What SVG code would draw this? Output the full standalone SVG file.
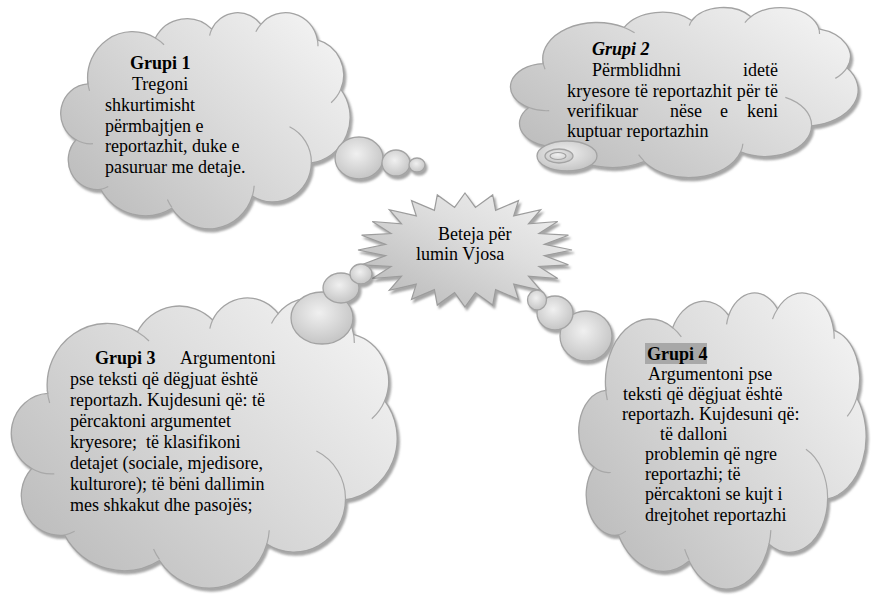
<svg xmlns="http://www.w3.org/2000/svg" xmlns:xlink="http://www.w3.org/1999/xlink" width="871" height="596" viewBox="0 0 871 596">
<style>
.t{font-family:"Liberation Serif","Times New Roman",serif;font-size:18px;fill:#000}
.b{font-weight:bold}
.bi{font-weight:bold;font-style:italic}
.cl{fill:url(#gc);stroke:#a3a3a3;stroke-width:1.3}
.in{fill:none;stroke:#a8a8a8;stroke-width:1.2}
.tl{fill:url(#gt);stroke:#a3a3a3;stroke-width:1.3}
</style>
<defs>
<linearGradient id="gc" x1="0" y1="0.9" x2="1" y2="0.15">
<stop offset="0" stop-color="#b9b9b9"/>
<stop offset="0.55" stop-color="#dadada"/>
<stop offset="1" stop-color="#f3f3f3"/>
</linearGradient>
<radialGradient id="gt" cx="0.45" cy="0.4" r="0.65">
<stop offset="0" stop-color="#f0f0f0"/>
<stop offset="1" stop-color="#c2c2c2"/>
</radialGradient>
<linearGradient id="gs" x1="0" y1="1" x2="1" y2="0">
<stop offset="0" stop-color="#b5b5b5"/>
<stop offset="0.6" stop-color="#dedede"/>
<stop offset="1" stop-color="#f2f2f2"/>
</linearGradient>
<filter id="sh" x="-10%" y="-10%" width="125%" height="125%">
<feDropShadow dx="2" dy="3" stdDeviation="1.2" flood-color="#6a6a6a" flood-opacity="0.6"/>
</filter>
<path id="cloud" vector-effect="non-scaling-stroke" d="M9.03 33.26A15.63 21.27 0 0 1 32.42 12.04A12.34 16.82 0 0 1 51.98 7.94A10.10 13.76 0 0 1 69.05 5.74A11.24 15.27 0 0 1 88.70 12.90A12.34 16.84 0 0 1 96.80 35.78A15.68 21.34 0 0 1 86.58 69.91A13.39 18.21 0 0 1 66.10 85.21A15.63 21.33 0 0 1 38.14 90.88A17.87 24.41 0 0 1 13.43 82.10A10.09 13.70 0 0 1 4.88 59.14A10.06 13.76 0 0 1 9.03 33.26Z"/>
<path id="inner" vector-effect="non-scaling-stroke" d="M10.75 60.98A10.06 13.76 0 0 1 4.88 59.14M16.04 80.79A10.09 13.70 0 0 1 13.43 82.10M38.14 90.49A15.63 21.33 0 0 1 36.60 86.86M66.73 80.44A15.63 21.33 0 0 1 66.10 85.21M79.00 53.13A13.39 18.21 0 0 1 86.58 69.91M96.80 35.78A12.34 16.84 0 0 1 93.44 41.98M88.70 12.90A11.24 15.27 0 0 1 88.88 15.83M67.31 9.15A11.24 15.27 0 0 1 69.05 5.74M51.25 10.93A10.10 13.76 0 0 1 51.98 7.94M32.42 12.04A15.63 21.27 0 0 1 35.43 15.16M9.55 36.55A15.63 21.27 0 0 1 8.93 32.06"/>
</defs>
<rect width="871" height="596" fill="#ffffff"/>

<g id="center">
<polygon filter="url(#sh)" fill="url(#gs)" stroke="#9c9c9c" stroke-width="1.2" points="465,193 475.4,207.4 492.7,194.9 495.6,210.3 518.5,200.6 513.7,215.9 540.7,209.7 528.5,223.8 557.7,221.5 538.9,233.5 568.4,235.2 544.3,244.4 572,250 544.3,255.6 568.4,264.8 538.9,266.5 557.7,278.5 528.5,276.2 540.7,290.3 513.7,284.1 518.5,299.4 495.6,289.7 492.7,305.1 475.4,292.6 465,307 454.6,292.6 437.3,305.1 434.4,289.7 411.5,299.4 416.3,284.1 389.3,290.3 401.5,276.2 372.3,278.5 391.1,266.5 361.6,264.8 385.7,255.6 358,250 385.7,244.4 361.6,235.2 391.1,233.5 372.3,221.5 401.5,223.8 389.3,209.7 416.3,215.9 411.5,200.6 434.4,210.3 437.3,194.9 454.6,207.4"/>
<text class="t" x="438" y="240">Beteja për</text>
<text class="t" x="416" y="260">lumin Vjosa</text>
</g>

<g id="grupi1">
<g filter="url(#sh)">
<use xlink:href="#cloud" class="cl" transform="translate(62,12) scale(2.88,2.16)"/>
<use xlink:href="#inner" class="in" transform="translate(62,12) scale(2.88,2.16)"/>
<ellipse class="tl" cx="359" cy="158" rx="24" ry="21"/>
<ellipse class="tl" cx="396" cy="163" rx="14" ry="13"/>
<ellipse class="tl" cx="417" cy="165" rx="8" ry="7"/>
</g>
<text class="t b" x="130" y="69">Grupi 1</text>
<text class="t" x="132" y="90">Tregoni</text>
<text class="t" x="105" y="111">shkurtimisht</text>
<text class="t" x="105" y="132">përmbajtjen e</text>
<text class="t" x="105" y="152">reportazhit, duke e</text>
<text class="t" x="105" y="173">pasuruar me detaje.</text>
</g>

<g id="grupi2">
<g filter="url(#sh)">
<use xlink:href="#cloud" class="cl" transform="translate(512,7) scale(3.46,1.70)"/>
<use xlink:href="#inner" class="in" transform="translate(512,7) scale(3.46,1.70)"/>
<ellipse class="tl" cx="567" cy="156" rx="30" ry="15"/>
<ellipse class="tl" cx="559" cy="156" rx="14" ry="7"/>
<ellipse fill="none" stroke="#a3a3a3" stroke-width="1.2" cx="558" cy="156" rx="8" ry="3.5"/>
</g>
<text class="t bi" x="592" y="55">Grupi 2</text>
<text class="t" x="592" y="76">Përmblidhni</text>
<text class="t" x="778" y="76" text-anchor="end">idetë</text>
<text class="t" x="567" y="97" textLength="211" lengthAdjust="spacing">kryesore të reportazhit për të</text>
<text class="t" x="567" y="117">verifikuar</text>
<text class="t" x="670" y="117">nëse</text>
<text class="t" x="720" y="117">e</text>
<text class="t" x="778" y="117" text-anchor="end">keni</text>
<text class="t" x="567" y="137">kuptuar reportazhin</text>
</g>

<g id="grupi3">
<g filter="url(#sh)">
<use xlink:href="#cloud" class="cl" transform="translate(13,297) scale(3.84,2.90)"/>
<use xlink:href="#inner" class="in" transform="translate(13,297) scale(3.84,2.90)"/>
<ellipse class="tl" cx="322" cy="318" rx="31" ry="26"/>
<ellipse class="tl" cx="341" cy="288" rx="18" ry="15"/>
<ellipse class="tl" cx="361" cy="274" rx="11" ry="10"/>
</g>
<text class="t b" x="95" y="364">Grupi 3</text>
<text class="t" x="180" y="364">Argumentoni</text>
<text class="t" x="70" y="385">pse teksti që dëgjuat është</text>
<text class="t" x="70" y="406">reportazh. Kujdesuni që: të</text>
<text class="t" x="70" y="427">përcaktoni argumentet</text>
<text class="t" x="70" y="448" xml:space="preserve">kryesore;  të klasifikoni</text>
<text class="t" x="70" y="469">detajet (sociale, mjedisore,</text>
<text class="t" x="70" y="490">kulturore); të bëni dallimin</text>
<text class="t" x="70" y="511">mes shkakut dhe pasojës;</text>
</g>

<g id="grupi4">
<g filter="url(#sh)">
<use xlink:href="#cloud" class="cl" transform="translate(580,292) scale(2.86,2.96)"/>
<use xlink:href="#inner" class="in" transform="translate(580,292) scale(2.86,2.96)"/>
<ellipse class="tl" cx="586" cy="336" rx="26" ry="25"/>
<ellipse class="tl" cx="555" cy="313" rx="18" ry="17"/>
<ellipse class="tl" cx="537" cy="300" rx="9.5" ry="10"/>
</g>
<rect x="645" y="343" width="62" height="21" fill="#a8a8a8"/>
<text class="t b" x="647" y="360">Grupi 4</text>
<text class="t" x="648" y="380">Argumentoni pse</text>
<text class="t" x="623" y="400">teksti që dëgjuat është</text>
<text class="t" x="622" y="420">reportazh. Kujdesuni që:</text>
<text class="t" x="660" y="440">të dalloni</text>
<text class="t" x="645" y="460">problemin që ngre</text>
<text class="t" x="645" y="480">reportazhi; të</text>
<text class="t" x="645" y="500">përcaktoni se kujt i</text>
<text class="t" x="645" y="521">drejtohet reportazhi</text>
</g>
<g id="connectors"/>
</svg>
